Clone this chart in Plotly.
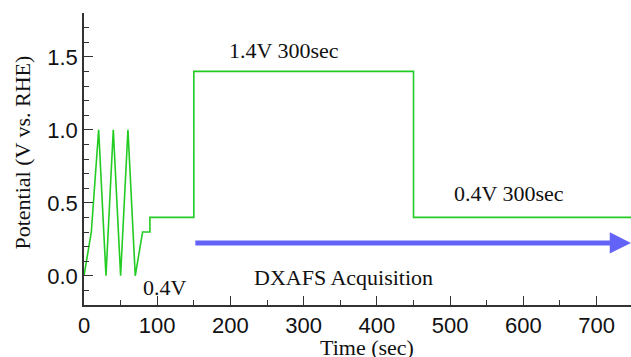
import plotly.graph_objects as go

time_s = [0, 10, 20, 30, 40, 50, 60, 70, 80, 90, 90, 150, 150, 450, 450, 750]
potential = [0, 0.3, 1.0, 0, 1.0, 0, 1.0, 0, 0.3, 0.3, 0.4, 0.4, 1.4, 1.4, 0.4, 0.4]

arrow_start = (150, 0.225)
arrow_end = (747, 0.225)

labels_text = ["1.4V 300sec", "0.4V 300sec", "0.4V", "DXAFS Acquisition"]
labels_x = [273, 581, 110, 355]
labels_y = [1.545, 0.565, -0.08, -0.01]

x_ticks = [0, 100, 200, 300, 400, 500, 600, 700]
y_ticks = [0.0, 0.5, 1.0, 1.5]
y_tick_text = ["0.0", "0.5", "1.0", "1.5"]

serif = "Liberation Serif, Times New Roman, serif"
sans = "Liberation Sans, Arial, sans-serif"

fig = go.Figure()
fig.add_trace(go.Scatter(x=time_s, y=potential, mode="lines",
                         line=dict(color="#22cc22", width=1.6),
                         showlegend=False, hoverinfo="skip", cliponaxis=False))

annotations = []
for t, x, y in zip(labels_text, labels_x, labels_y):
    annotations.append(dict(x=x, y=y, xref="x", yref="y", text=t, showarrow=False,
                            font=dict(family=serif, size=22, color="#111")))
annotations.append(dict(x=arrow_end[0], y=arrow_end[1], ax=arrow_start[0], ay=arrow_start[1],
                        xref="x", yref="y", axref="x", ayref="y", text="",
                        showarrow=True, arrowhead=2, arrowsize=0.85, arrowwidth=5,
                        arrowcolor="#6363f7"))
annotations.append(dict(x=-0.1115, y=0.522, xref="paper", yref="paper",
                        xanchor="center", yanchor="middle",
                        text="Potential (V vs. RHE)", textangle=-90, showarrow=False,
                        font=dict(family=serif, size=22, color="#111")))
annotations.append(dict(x=0.518, y=-0.147, xref="paper", yref="paper",
                        xanchor="center", yanchor="middle",
                        text="Time (sec)", showarrow=False,
                        font=dict(family=serif, size=22, color="#111")))

fig.update_layout(
    width=631, height=357,
    margin=dict(l=84, r=0, t=13, b=52),
    paper_bgcolor="white", plot_bgcolor="white",
    annotations=annotations,
    xaxis=dict(range=[0, 747], tickvals=x_ticks, ticks="inside", ticklen=9, tickwidth=1.2,
               tickcolor="#333", showline=True, linecolor="#333", linewidth=1.5,
               showgrid=False, zeroline=False,
               tickfont=dict(family=sans, size=22, color="#111"),
               minor=dict(dtick=50, ticks="inside", ticklen=5, tickcolor="#333", showgrid=False)),
    yaxis=dict(range=[-0.2, 1.8], tickvals=y_ticks, ticktext=y_tick_text, ticks="inside",
               ticklen=9, tickwidth=1.2, tickcolor="#333", showline=True, linecolor="#333",
               linewidth=1.5, showgrid=False, zeroline=False,
               tickfont=dict(family=sans, size=22, color="#111"),
               minor=dict(dtick=0.1, ticks="inside", ticklen=5, tickcolor="#333", showgrid=False)),
)

fig.write_html("out.html")
